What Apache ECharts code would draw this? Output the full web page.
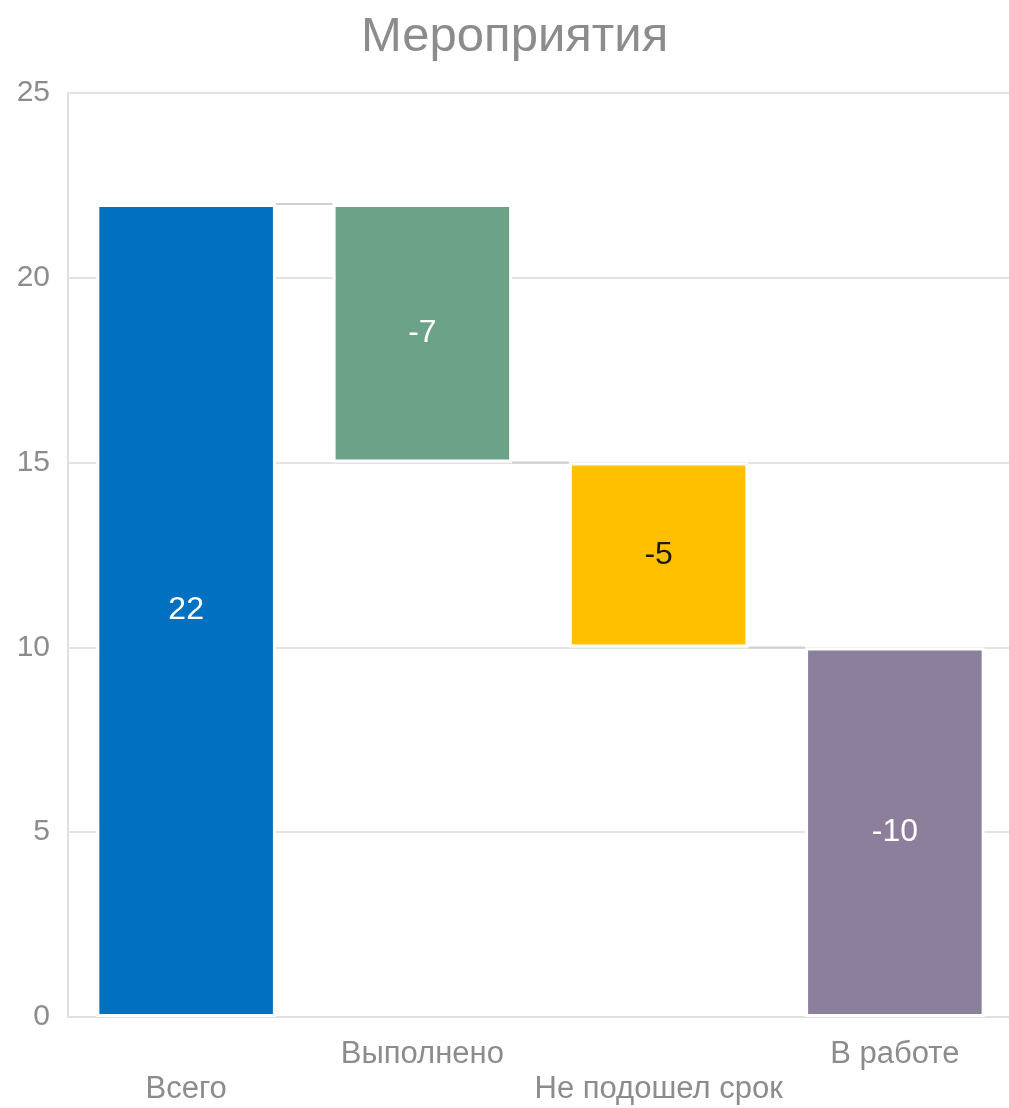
<!DOCTYPE html>
<html>
<head>
<meta charset="utf-8">
<script src="https://cdn.jsdelivr.net/npm/echarts@6/dist/echarts.min.js"></script>
<style>
html,body{margin:0;padding:0;background:#fff;}
#chart{width:1009px;height:1108px;}
</style>
</head>
<body>
<div id="chart"></div>
<script>
var titleText = 'Мероприятия';
var categories = ['Всего', 'Выполнено', 'Не подошел срок', 'В работе'];
var changes = [22, -7, -5, -10];
var barColors = ['#0070C0', '#6CA287', '#FFC000', '#8B7F9B'];
var labelColors = ['#ffffff', '#ffffff', '#1a1a1a', '#ffffff'];
var yTicks = { min: 0, max: 25, interval: 5 };

// build waterfall stacks from the changes
var baseVals = [], barVals = [], levels = [];
var running = 0;
changes.forEach(function (c, i) {
  if (i === 0) {
    baseVals.push(0);
    barVals.push(c);
    running = c;
  } else {
    var next = running + c;
    baseVals.push(Math.min(running, next));
    barVals.push(Math.abs(c));
    running = next;
  }
  levels.push(running);
});
var connectorData = [];
for (var i = 0; i < categories.length - 1; i++) {
  connectorData.push([i, levels[i]]);
}

var BAR_FRAC = 0.76;
var chart = echarts.init(document.getElementById('chart'));
var fontFam = '"Liberation Sans", Arial, sans-serif';
chart.setOption({
  animation: false,
  backgroundColor: '#ffffff',
  title: {
    text: titleText,
    left: 356,
    top: 8,
    textStyle: { color: '#8c8c8c', fontSize: 49, fontWeight: 'normal', fontFamily: fontFam }
  },
  grid: { left: 68, width: 945, top: 93, bottom: 91, containLabel: false, outerBoundsMode: 'none' },
  xAxis: {
    type: 'category',
    data: categories,
    axisLine: { show: true, lineStyle: { color: '#e0e0e0', width: 2 } },
    axisTick: { show: false },
    axisLabel: {
      interval: 0,
      margin: 20,
      color: '#8c8c8c',
      fontSize: 31,
      lineHeight: 35,
      fontFamily: fontFam,
      formatter: function (v, idx) { return idx % 2 === 0 ? '\n' + v : v; }
    }
  },
  yAxis: {
    type: 'value',
    min: yTicks.min,
    max: yTicks.max,
    interval: yTicks.interval,
    axisLine: { show: true, lineStyle: { color: '#e0e0e0', width: 2 } },
    axisTick: { show: false },
    splitLine: { lineStyle: { color: '#e3e3e3', width: 2 } },
    axisLabel: { color: '#8c8c8c', fontSize: 30, margin: 18, fontFamily: fontFam }
  },
  series: [
    {
      type: 'bar',
      stack: 'wf',
      data: baseVals,
      barWidth: (BAR_FRAC * 100) + '%',
      itemStyle: { color: 'rgba(0,0,0,0)' },
      emphasis: { disabled: true },
      silent: true
    },
    {
      type: 'bar',
      stack: 'wf',
      barWidth: (BAR_FRAC * 100) + '%',
      data: barVals.map(function (v, i) {
        return {
          value: v,
          itemStyle: { color: barColors[i], borderColor: '#ffffff', borderWidth: 3 },
          label: { color: labelColors[i] }
        };
      }),
      label: {
        show: true,
        position: 'inside',
        fontSize: 32,
        fontFamily: fontFam,
        formatter: function (p) { return String(changes[p.dataIndex]); }
      },
      emphasis: { disabled: true }
    },
    {
      type: 'custom',
      data: connectorData,
      z: 1,
      silent: true,
      renderItem: function (params, api) {
        var idx = api.value(0);
        var lvl = api.value(1);
        var p1 = api.coord([idx, lvl]);
        var p2 = api.coord([idx + 1, lvl]);
        var half = api.size([1, 0])[0] * BAR_FRAC / 2;
        return {
          type: 'line',
          shape: { x1: p1[0] + half, y1: p1[1], x2: p2[0] - half, y2: p2[1] },
          style: { stroke: '#cfcfcf', lineWidth: 2 }
        };
      }
    }
  ]
});
</script>
</body>
</html>
